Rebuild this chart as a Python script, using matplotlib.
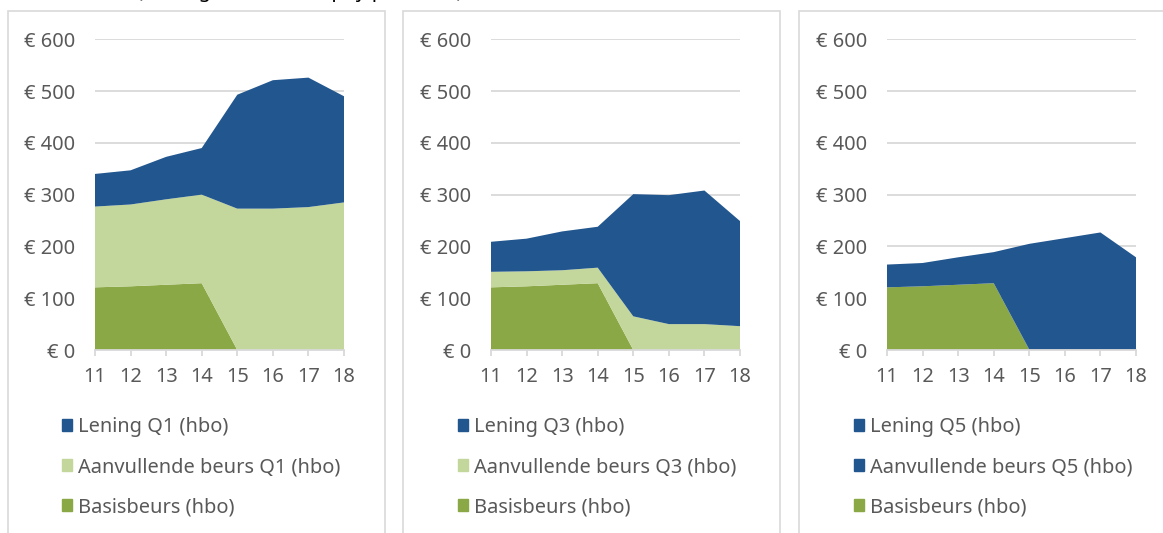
import matplotlib.pyplot as plt
from matplotlib.patches import Rectangle, Patch
from matplotlib.ticker import FuncFormatter

plt.rcParams['font.family'] = ['Noto Sans', 'DejaVu Sans']

# leeftijd / jaar op de x-as
years = [11, 12, 13, 14, 15, 16, 17, 18]

# maandbedragen per component (gestapeld)
basisbeurs = [121, 123, 126, 129, 0, 0, 0, 0]
aanvullend_q1 = [156, 158, 165, 171, 273, 273, 276, 285]
aanvullend_q3 = [30, 29, 28, 30, 65, 50, 50, 46]
aanvullend_q5 = [0, 0, 0, 0, 1, 1, 1, 1]
lening_q1 = [63, 66, 82, 90, 220, 248, 250, 205]
lening_q3 = [58, 63, 75, 79, 236, 249, 258, 203]
lening_q5 = [44, 45, 53, 60, 204, 215, 226, 178]

groups = ['Q1', 'Q3', 'Q5']
aanvullend = [aanvullend_q1, aanvullend_q3, aanvullend_q5]
lening = [lening_q1, lening_q3, lening_q5]
y_ticks = [0, 100, 200, 300, 400, 500, 600]

c_lening = '#22568E'
c_aanv = '#C3D69B'
c_basis = '#8AA845'
c_text = '#595959'
c_grid = '#D9D9D9'
# in het Q5-paneel is de aanvullende beurs blauw gekleurd
aanv_colors = [c_aanv, c_aanv, '#22568E']

W, H = 1163, 533
fig = plt.figure(figsize=(W / 100, H / 100), dpi=100)

# titel valt grotendeels buiten beeld, alleen de onderkant is zichtbaar
fig.text(137 / W, 1 + 3.5 / H, "(bedragen in euro's, prijspeil 2018)",
         fontsize=14.4, color='black', va='baseline', ha='left')

panel_left = [8, 403, 799]
axis_left = [95, 491, 887]
axis_w = 249

for i, g in enumerate(groups):
    # kader rond elk paneel
    fig.patches.append(Rectangle((panel_left[i] / W, -0.1), 377 / W, 1.1 - 11 / H,
                                 transform=fig.transFigure, fill=False,
                                 edgecolor=c_grid, lw=1.2))

    ax = fig.add_axes([axis_left[i] / W, 1 - 350 / H, axis_w / W, (350 - 39.3) / H])
    ax.stackplot(years, basisbeurs, aanvullend[i], lening[i],
                 colors=[c_basis, aanv_colors[i], c_lening], lw=0)
    ax.set_xlim(11, 18)
    ax.set_ylim(0, 600)
    ax.set_xticks(years)
    ax.set_yticks(y_ticks)
    ax.yaxis.set_major_formatter(FuncFormatter(lambda v, p: f'€ {v:.0f}'))
    ax.yaxis.grid(True, color=c_grid, lw=1.3)
    ax.set_axisbelow(True)
    for s in ['top', 'left', 'right']:
        ax.spines[s].set_visible(False)
    ax.spines['bottom'].set_color(c_grid)
    ax.spines['bottom'].set_linewidth(1.3)
    ax.spines['bottom'].set_zorder(3)
    ax.tick_params(axis='y', length=0, pad=14, labelsize=14.4, labelcolor=c_text)
    ax.tick_params(axis='x', length=4, width=1.3, color=c_grid, pad=8,
                   labelsize=14.4, labelcolor=c_text)

    handles = [Patch(color=c_lening), Patch(color=aanv_colors[i]), Patch(color=c_basis)]
    labels = [f'Lening {g} (hbo)', f'Aanvullende beurs {g} (hbo)', 'Basisbeurs (hbo)']
    fig.legend(handles, labels, loc='center left',
               bbox_to_anchor=((axis_left[i] - 33) / W, 1 - 467 / H),
               frameon=False, fontsize=14.4, labelcolor=c_text,
               handlelength=0.5, handleheight=0.5, handletextpad=0.3,
               labelspacing=1.0, borderpad=0, borderaxespad=0)

fig.savefig('out.png', dpi=100)
